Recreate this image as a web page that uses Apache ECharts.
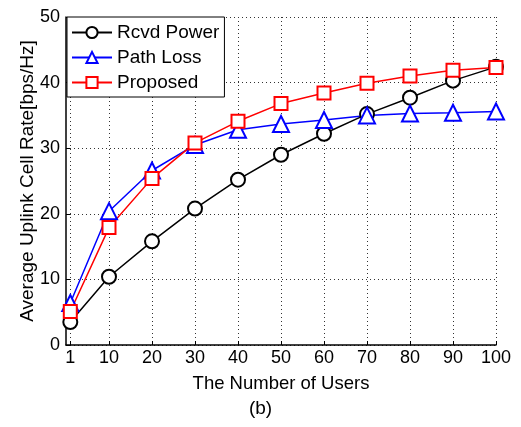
<!DOCTYPE html>
<html>
<head>
<meta charset="utf-8">
<script src="https://cdn.jsdelivr.net/npm/echarts@6/dist/echarts.min.js"></script>
<style>
  html, body { margin: 0; padding: 0; background: #fff; }
  #main { width: 521px; height: 427px; }
</style>
</head>
<body>
<div id="main"></div>
<script>
var users = [1, 10, 20, 30, 40, 50, 60, 70, 80, 90, 100];
var rcvdPower = [3.5, 10.4, 15.8, 20.8, 25.2, 29.0, 32.2, 35.2, 37.7, 40.3, 42.4];
var pathLoss = [6.4, 20.4, 26.6, 30.5, 32.8, 33.7, 34.3, 35.0, 35.3, 35.4, 35.6];
var proposed = [5.1, 17.9, 25.4, 30.8, 34.1, 36.8, 38.4, 39.9, 41.0, 41.9, 42.3];

function pairs(vals) {
  return users.map(function (u, i) { return [u, vals[i]]; });
}

var chart = echarts.init(document.getElementById('main'));
var font = 'Liberation Sans, Arial, sans-serif';
var dotted = { color: '#333', width: 1, type: [1, 3] };

chart.setOption({
  backgroundColor: '#fff',
  animation: false,
  textStyle: { fontFamily: font },
  grid: { left: 66, right: 25, top: 17, bottom: 82 },
  title: {
    text: '(b)',
    left: 'center',
    top: 399,
    padding: 0,
    textStyle: { fontSize: 19, fontWeight: 'normal', color: '#000', fontFamily: font }
  },
  legend: {
    orient: 'vertical',
    left: 67,
    top: 17,
    itemWidth: 40,
    itemHeight: 14,
    itemGap: 6,
    padding: [6, 5, 5, 4],
    backgroundColor: '#fff',
    borderColor: '#000',
    borderWidth: 1,
    borderRadius: 0,
    z: 10,
    textStyle: { fontSize: 19, color: '#000', fontFamily: font },
    data: ['Rcvd Power', 'Path Loss', 'Proposed']
  },
  xAxis: {
    type: 'value',
    min: 0,
    max: 100,
    interval: 10,
    name: 'The Number of Users',
    nameLocation: 'middle',
    nameGap: 29,
    nameTextStyle: { fontSize: 18.5, color: '#000', fontFamily: font },
    axisLine: { lineStyle: { color: '#000', width: 1.5 } },
    axisTick: { inside: true, length: 4, customValues: users, lineStyle: { color: '#000' } },
    axisLabel: { customValues: users, fontSize: 18, color: '#000', margin: 4, fontFamily: font },
    splitLine: { show: true, lineStyle: dotted }
  },
  yAxis: {
    type: 'value',
    min: 0,
    max: 50,
    interval: 10,
    name: 'Average Uplink Cell Rate[bps/Hz]',
    nameLocation: 'middle',
    nameGap: 29,
    nameMoveOverlap: false,
    nameTextStyle: { fontSize: 19, color: '#000', fontFamily: font },
    axisLine: { show: true, lineStyle: { color: '#000', width: 1.5 } },
    axisTick: { show: true, inside: true, length: 4, lineStyle: { color: '#000' } },
    axisLabel: { fontSize: 18, color: '#000', margin: 6, fontFamily: font },
    splitLine: { show: true, lineStyle: dotted }
  },
  series: [
    {
      name: 'Rcvd Power',
      type: 'line',
      data: pairs(rcvdPower),
      symbol: 'emptyCircle',
      symbolSize: 14,
      lineStyle: { color: '#000', width: 1.5 },
      itemStyle: { color: '#000', borderWidth: 1.5 }
    },
    {
      name: 'Path Loss',
      type: 'line',
      data: pairs(pathLoss),
      symbol: 'emptyTriangle',
      symbolSize: 16,
      lineStyle: { color: '#0000ff', width: 1.5 },
      itemStyle: { color: '#0000ff', borderWidth: 1.5 }
    },
    {
      name: 'Proposed',
      type: 'line',
      data: pairs(proposed),
      symbol: 'emptyRect',
      symbolSize: 13,
      lineStyle: { color: '#ff0000', width: 1.5 },
      itemStyle: { color: '#ff0000', borderWidth: 1.5 }
    }
  ]
});
</script>
</body>
</html>
